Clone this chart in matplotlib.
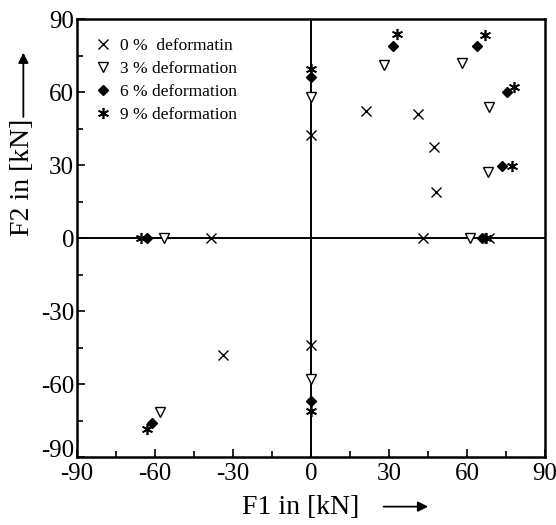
import matplotlib
matplotlib.use("Agg")
import matplotlib.pyplot as plt
import matplotlib.transforms as mtransforms
from matplotlib.ticker import MultipleLocator

plt.rcParams["font.family"] = ["Liberation Serif", "DejaVu Serif"]
plt.rcParams["axes.unicode_minus"] = False

# force components F1 / F2 in kN, per deformation level
f1_0 = [0, 0, 21, 41, 47.5, 48, 43, 68.5, -38.5, -34]
f2_0 = [42.5, -44, 52, 51, 37.5, 19, 0, 0, 0, -48]
f1_3 = [0, 0, 28, 58, 68.5, 68, 61, -56.5, -58]
f2_3 = [58, -58, 71, 72, 54, 27, 0, 0, -71.5]
f1_6 = [0, 0, 31.5, 64, 75.5, 73.5, 66, -63, -61]
f2_6 = [66, -67, 79, 79, 60, 29.5, 0, 0, -76]
f1_9 = [0, 0, 33, 67, 78, 77.5, 67.5, -65.5, -63]
f2_9 = [69.5, -71, 84, 83.5, 62, 29.5, 0, 0, -78.5]

labels = ["0 %  deformatin", "3 % deformation", "6 % deformation", "9 % deformation"]
ticks = [-90, -60, -30, 0, 30, 60, 90]

fig = plt.figure(figsize=(5.56, 5.25), dpi=100)
ax = fig.add_axes([0.1385, 0.1295, 0.8415, 0.8343])

ax.axhline(0, color="black", lw=1.4, zorder=1)
ax.axvline(0, color="black", lw=1.4, zorder=1)

ax.plot(f1_0, f2_0, ls="none", marker="x", ms=6.5, mew=1.0, color="black", label=labels[0], zorder=3)
ax.plot(f1_3, f2_3, ls="none", marker="v", ms=7.5, mew=1.0, mfc="white", mec="black", label=labels[1], zorder=3)
ax.plot(f1_6, f2_6, ls="none", marker="D", ms=5, color="black", label=labels[2], zorder=3)
ax.plot(f1_9, f2_9, ls="none", marker=(6, 2, 0), ms=8, mew=1.2, color="black", label=labels[3], zorder=3)

ax.set_xlim(-90, 90)
ax.set_ylim(-90, 90)
ax.set_xticks(ticks)
ax.set_yticks(ticks)
ax.xaxis.set_minor_locator(MultipleLocator(15))
ax.yaxis.set_minor_locator(MultipleLocator(15))
ax.tick_params(which="both", direction="in", top=False, right=False, labelsize=18, width=1.2)
ax.tick_params(axis="x", pad=4)
ax.tick_params(axis="y", pad=2)
ax.tick_params(which="major", length=6)
ax.tick_params(which="minor", length=4)
for s in ax.spines.values():
    s.set_linewidth(1.8)

# lift the lowest y label so it clears the -90 of the x axis
fig.canvas.draw()
lab = ax.get_yticklabels()[0]
lab.set_transform(lab.get_transform() + mtransforms.ScaledTranslation(0, 6 / 72, fig.dpi_scale_trans))

ax.legend(loc="upper left", bbox_to_anchor=(0.015, 0.98), frameon=False, fontsize=12.5,
          handlelength=1.0, handletextpad=0.5, labelspacing=0.38, borderaxespad=0.2)

fig.text(0.54, 0.034, "F1 in [kN]", fontsize=20, ha="center", va="center")
fig.text(0.04, 0.663, "F2 in [kN]", fontsize=20, ha="center", va="center", rotation=90)
# arrows next to the axis labels
ax.annotate("", xy=(0.775, 0.035), xytext=(0.685, 0.035), xycoords="figure fraction",
            arrowprops=dict(arrowstyle="-|>", color="black", lw=1.3, mutation_scale=15))
ax.annotate("", xy=(0.042, 0.905), xytext=(0.042, 0.772), xycoords="figure fraction",
            arrowprops=dict(arrowstyle="-|>", color="black", lw=1.3, mutation_scale=15))

fig.savefig("out.png", dpi=100)
